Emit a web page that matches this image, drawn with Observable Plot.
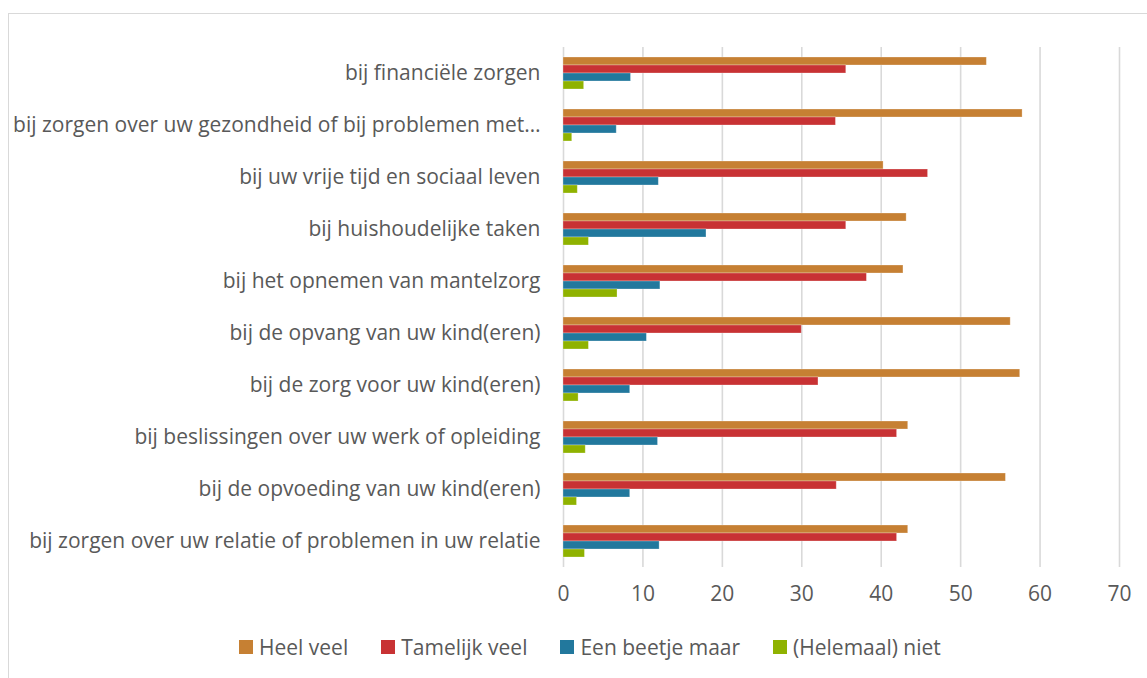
<!DOCTYPE html>
<html>
<head>
<meta charset="utf-8">
<script src="https://cdn.jsdelivr.net/npm/d3@7"></script>
<script src="https://cdn.jsdelivr.net/npm/@observablehq/plot@0.6"></script>
<style>
  html, body { margin: 0; padding: 0; background: #fff; }
  body { width: 1147px; height: 678px; position: relative; overflow: hidden; font-family: "Open Sans", sans-serif; }
  #frame { position: absolute; left: 8px; top: 13px; width: 1145px; height: 670px; border: 1.5px solid #d9d9d9; box-sizing: border-box; }
  #chart { position: absolute; left: 0; top: 0; }
  #legend { position: absolute; left: 239px; top: 633px; display: flex; align-items: center; font-size: 21px; color: #595959; white-space: nowrap; }
  .item { display: flex; align-items: center; margin-right: 33px; }
  .sw { width: 14px; height: 14px; margin-right: 6px; }
</style>
</head>
<body>
<div id="frame"></div>
<div id="chart"></div>
<div id="legend"></div>
<script>
const categories = [
  "bij financiële zorgen",
  "bij zorgen over uw gezondheid of bij problemen met…",
  "bij uw vrije tijd en sociaal leven",
  "bij huishoudelijke taken",
  "bij het opnemen van mantelzorg",
  "bij de opvang van uw kind(eren)",
  "bij de zorg voor uw kind(eren)",
  "bij beslissingen over uw werk of opleiding",
  "bij de opvoeding van uw kind(eren)",
  "bij zorgen over uw relatie of problemen in uw relatie"
];
const series = ["Heel veel", "Tamelijk veel", "Een beetje maar", "(Helemaal) niet"];
const colors = ["#c68033", "#c83234", "#22789d", "#8fb200"];
const heelVeel      = [53.3, 57.8, 40.3, 43.2, 42.8, 56.3, 57.5, 43.4, 55.7, 43.4];
const tamelijkVeel  = [35.6, 34.3, 45.9, 35.6, 38.2, 30.0, 32.1, 42.0, 34.4, 42.0];
const eenBeetje     = [8.5, 6.7, 12.0, 18.0, 12.2, 10.5, 8.4, 11.9, 8.4, 12.1];
const helemaalNiet  = [2.6, 1.1, 1.8, 3.2, 6.8, 3.2, 1.9, 2.8, 1.7, 2.7];
const xTicks = [0, 10, 20, 30, 40, 50, 60, 70];

const valuesBySeries = [heelVeel, tamelijkVeel, eenBeetje, helemaalNiet];
const data = [];
categories.forEach((c, i) => {
  series.forEach((s, j) => data.push({category: c, series: s, value: valuesBySeries[j][i]}));
});

const chart = Plot.plot({
  width: 1147,
  height: 620,
  marginLeft: 563,
  marginRight: 28,
  marginTop: 43,
  marginBottom: 50,
  style: {fontFamily: "Open Sans, sans-serif", fontSize: "21px", color: "#595959", background: "transparent"},
  x: {domain: [0, 70], ticks: xTicks},
  y: {domain: series, paddingInner: 0, paddingOuter: 1.0, axis: null},
  fy: {domain: categories, padding: 0},
  color: {domain: series, range: colors},
  marks: [
    Plot.gridX(xTicks, {stroke: "#d9d9d9", strokeOpacity: 1, strokeWidth: 1.6}),
    Plot.barX(data, {x: "value", y: "series", fy: "category", fill: "series", stroke: "white", strokeOpacity: 0.35, strokeWidth: 0.8}),
    Plot.axisX(xTicks, {tickSize: 0, tickPadding: 19, fontSize: 21, fill: "#595959", label: null, facetAnchor: "bottom"}),
    Plot.axisFy({anchor: "left", tickSize: 0, tickPadding: 23, fontSize: 21, fill: "#595959", label: null})
  ]
});
document.getElementById("chart").appendChild(chart);

const legend = document.getElementById("legend");
series.forEach((s, i) => {
  const item = document.createElement("div");
  item.className = "item";
  const sw = document.createElement("div");
  sw.className = "sw";
  sw.style.background = colors[i];
  const t = document.createElement("span");
  t.textContent = s;
  item.appendChild(sw);
  item.appendChild(t);
  legend.appendChild(item);
});
</script>
</body>
</html>
